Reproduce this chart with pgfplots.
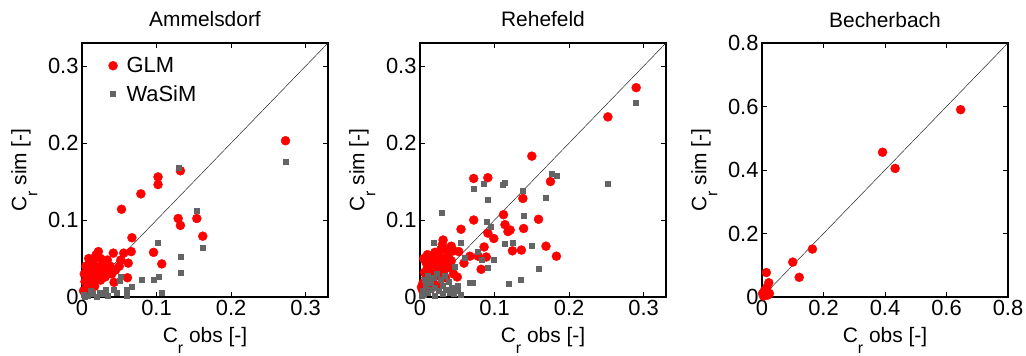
\documentclass[border=0pt]{standalone}
\usepackage{pgfplots}
\pgfplotsset{compat=1.18}
\usepackage{fontspec}
\setmainfont{Liberation Sans}
\definecolor{glm}{RGB}{255,0,0}
\definecolor{wasim}{RGB}{100,100,100}
\newcommand{\Cr}{C\raisebox{-11bp}{\fontsize{16}{16}\selectfont r}}
\pgfplotsset{
  myaxis/.style={
    scale only axis, width=246bp, height=254bp, anchor=south west,
    xmin=0, ymin=0,
    tick align=inside, major tick length=5bp,
    axis line style={line width=1.1bp}, tick style={line width=0.8bp, black},
    every tick label/.append style={font=\fontsize{22}{22}\selectfont},
    /pgf/number format/assume math mode=true,
    /pgf/number format/fixed,
    every axis title/.style={at={(0.5,1)}, anchor=base, yshift=16bp, font=\fontsize{21}{21}\selectfont},
    every axis x label/.style={at={(axis description cs:0.5,-0.181)}, anchor=base, font=\fontsize{21}{21}\selectfont},
    every axis y label/.style={at={(axis description cs:-0.235,0.5)}, rotate=90, anchor=center, font=\fontsize{21}{21}\selectfont},
    xlabel={\Cr\ obs [-]}, ylabel={\Cr\ sim [-]},
  },
  glmstyle/.style={only marks, mark=*, mark size=4.5bp, color=glm, mark options={draw=glm, fill=glm}},
  wasimstyle/.style={only marks, mark=square*, mark size=2.5bp, color=wasim, mark options={draw=wasim, fill=wasim}},
  diag/.style={black!85, line width=0.5bp, forget plot},
}
\begin{document}
\begin{tikzpicture}
\useasboundingbox (0,0) rectangle (1026bp,356bp);
% ---------------- Ammelsdorf
\begin{axis}[myaxis, at={(82bp,59bp)}, xmax=0.33, ymax=0.33,
  xtick={0,0.1,0.2,0.3}, ytick={0,0.1,0.2,0.3},
  title={Ammelsdorf},
  legend style={draw=none, fill=none, at={(0.095,0.96)}, anchor=north west,
    nodes={font=\fontsize{22}{22}\selectfont, inner xsep=9bp}, row sep=7bp},
  legend cell align=left]
\addplot[glmstyle] coordinates {
(0.273,0.203)(0.132,0.164)(0.102,0.156)(0.102,0.146)(0.079,0.134)(0.053,0.114)
(0.129,0.102)(0.132,0.093)(0.154,0.102)(0.162,0.079)(0.067,0.077)(0.096,0.058)
(0.107,0.043)(0.042,0.057)(0.056,0.057)(0.066,0.059)(0.062,0.044)(0.061,0.025)
(0.043,0.019)(0.031,0.026)(0.022,0.059)(0.019,0.055)(0.025,0.050)(0.028,0.045)
(0.034,0.048)(0.038,0.040)(0.045,0.035)(0.050,0.040)(0.052,0.048)(0.015,0.048)
(0.012,0.042)(0.018,0.040)(0.022,0.036)(0.030,0.036)(0.035,0.030)(0.010,0.035)
(0.014,0.030)(0.020,0.028)(0.025,0.022)(0.008,0.025)(0.004,0.020)(0.012,0.018)
(0.017,0.014)(0.006,0.012)(0.002,0.008)(0.010,0.006)(0.003,0.030)(0.026,0.033)
(0.040,0.030)(0.016,0.022)(0.005,0.040)(0.009,0.050)
};
\addlegendentry{GLM}
\addplot[wasimstyle] coordinates {
(0.273,0.176)(0.130,0.168)(0.154,0.112)(0.162,0.064)(0.132,0.053)(0.132,0.032)
(0.102,0.071)(0.103,0.027)(0.096,0.022)(0.080,0.022)(0.107,0.006)(0.067,0.013)
(0.060,0.010)(0.052,0.026)(0.050,0.021)(0.047,0.006)(0.042,0.010)(0.032,0.010)
(0.024,0.006)(0.015,0.004)(0.008,0.002)(0.004,0.001)(0.020,0.001)(0.035,0.002)
(0.060,0.002)(0.012,0.008)(0.028,0.004)(0.002,0.003)
};
\addlegendentry{WaSiM}
\addplot[diag] coordinates {(0,0)(0.33,0.33)};
\end{axis}
% ---------------- Rehefeld
\begin{axis}[myaxis, at={(420bp,59bp)}, xmax=0.33, ymax=0.33,
  xtick={0,0.1,0.2,0.3}, ytick={0,0.1,0.2,0.3},
  title={Rehefeld}]
\addplot[glmstyle] coordinates {
(0.290,0.272)(0.252,0.234)(0.150,0.183)(0.175,0.150)(0.072,0.154)(0.091,0.155)
(0.138,0.128)(0.112,0.107)(0.159,0.101)(0.072,0.100)(0.114,0.094)(0.139,0.089)
(0.055,0.088)(0.118,0.085)(0.121,0.087)(0.091,0.083)(0.099,0.076)(0.031,0.074)
(0.042,0.066)(0.045,0.060)(0.052,0.059)(0.086,0.065)(0.124,0.060)(0.136,0.061)
(0.169,0.066)(0.183,0.053)(0.067,0.053)(0.078,0.053)(0.089,0.052)(0.082,0.036)
(0.059,0.044)(0.050,0.026)(0.042,0.047)
(0.030,0.068)(0.028,0.062)(0.025,0.055)(0.020,0.058)(0.015,0.050)(0.012,0.045)
(0.018,0.042)(0.024,0.046)(0.030,0.050)(0.035,0.042)(0.038,0.055)(0.010,0.038)
(0.006,0.032)(0.014,0.030)(0.020,0.035)(0.026,0.030)(0.032,0.034)(0.008,0.025)
(0.004,0.018)(0.012,0.020)(0.018,0.024)(0.003,0.010)(0.002,0.013)(0.008,0.045)
(0.005,0.050)(0.022,0.015)(0.016,0.012)(0.040,0.038)(0.045,0.030)(0.034,0.025)
(0.028,0.040)(0.010,0.055)(0.036,0.060)(0.040,0.048)
};
\addplot[wasimstyle] coordinates {
(0.290,0.252)(0.252,0.147)(0.176,0.160)(0.183,0.157)(0.169,0.129)(0.138,0.138)
(0.114,0.148)(0.111,0.146)(0.085,0.147)(0.072,0.141)(0.091,0.126)(0.029,0.109)
(0.089,0.098)(0.139,0.106)(0.095,0.091)(0.055,0.070)(0.019,0.070)(0.114,0.069)
(0.124,0.070)(0.150,0.067)(0.078,0.059)(0.060,0.051)(0.099,0.049)(0.083,0.048)
(0.091,0.038)(0.159,0.037)(0.135,0.022)(0.119,0.017)(0.067,0.018)(0.071,0.019)
(0.051,0.015)(0.046,0.039)
(0.005,0.003)(0.010,0.006)(0.015,0.010)(0.020,0.012)(0.025,0.008)(0.030,0.015)
(0.035,0.010)(0.040,0.006)(0.045,0.004)(0.008,0.015)(0.012,0.020)(0.018,0.025)
(0.022,0.030)(0.028,0.022)(0.033,0.028)(0.038,0.020)(0.003,0.008)(0.006,0.022)
(0.010,0.028)(0.042,0.012)(0.050,0.008)(0.055,0.003)(0.020,0.002)(0.030,0.004)
(0.015,0.018)(0.002,0.002)
};
\addplot[diag] coordinates {(0,0)(0.33,0.33)};
\end{axis}
% ---------------- Becherbach
\begin{axis}[myaxis, at={(762bp,59bp)}, xmax=0.8, ymax=0.8,
  xtick={0,0.2,0.4,0.6,0.8}, ytick={0,0.2,0.4,0.6,0.8},
  title={Becherbach}]
\addplot[glmstyle] coordinates {
(0.646,0.590)(0.392,0.456)(0.433,0.405)(0.164,0.151)(0.100,0.110)(0.121,0.062)
(0.014,0.077)(0.022,0.045)(0.016,0.030)(0.011,0.019)(0.002,0.011)(0.024,0.011)
(0.005,0.003)(0.018,0.006)(0.008,0.020)
};
\addplot[diag] coordinates {(0,0)(0.8,0.8)};
\end{axis}
\end{tikzpicture}
\end{document}
